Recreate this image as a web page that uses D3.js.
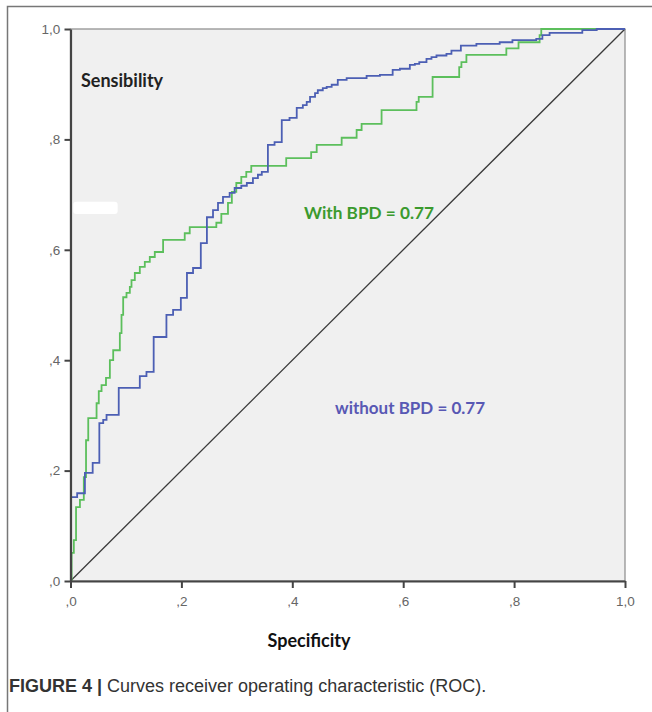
<!DOCTYPE html>
<html>
<head>
<meta charset="utf-8">
<script src="https://cdn.jsdelivr.net/npm/d3@7"></script>
<style>
  body { margin: 0; background: #fff; }
  svg text { font-family: Lato, "Open Sans", sans-serif; }
</style>
</head>
<body>
<div id="roc"></div>
<script>
// ROC points: x = 1 - specificity, y = sensitivity (top of every rise)
const withX = [0, 0.002, 0.006, 0.010, 0.017, 0.024, 0.028, 0.032, 0.047, 0.051, 0.056, 0.064, 0.071, 0.077,
  0.089, 0.092, 0.095, 0.101, 0.107, 0.110, 0.116, 0.125, 0.134, 0.143, 0.152, 0.167, 0.206, 0.215,
  0.263, 0.272, 0.284, 0.291, 0.299, 0.308, 0.317, 0.326, 0.389, 0.434, 0.444, 0.489, 0.516, 0.525,
  0.561, 0.624, 0.628, 0.653, 0.701, 0.705, 0.714, 0.786, 0.808, 0.846, 0.849, 1];
const withY = [0, 0.051, 0.074, 0.134, 0.147, 0.188, 0.255, 0.295, 0.322, 0.344, 0.355, 0.368, 0.400, 0.418,
  0.449, 0.482, 0.514, 0.522, 0.533, 0.545, 0.558, 0.569, 0.578, 0.587, 0.596, 0.618, 0.630, 0.641,
  0.649, 0.665, 0.685, 0.705, 0.721, 0.732, 0.741, 0.752, 0.766, 0.777, 0.790, 0.803, 0.817, 0.828,
  0.853, 0.868, 0.877, 0.913, 0.931, 0.940, 0.953, 0.965, 0.976, 0.989, 1.0, 1.0];

const withoutX = [0, 0.001, 0.012, 0.026, 0.040, 0.052, 0.059, 0.065, 0.087, 0.125, 0.137, 0.150, 0.173, 0.185,
  0.199, 0.210, 0.221, 0.235, 0.246, 0.257, 0.266, 0.275, 0.287, 0.296, 0.308, 0.318, 0.329, 0.338,
  0.345, 0.356, 0.368, 0.381, 0.395, 0.408, 0.419, 0.426, 0.432, 0.441, 0.446, 0.455, 0.462, 0.471,
  0.482, 0.498, 0.534, 0.558, 0.581, 0.594, 0.612, 0.621, 0.629, 0.642, 0.651, 0.660, 0.678, 0.687,
  0.704, 0.732, 0.774, 0.797, 0.840, 0.851, 0.864, 0.923, 0.949, 1];
const withoutY = [0, 0.152, 0.159, 0.196, 0.214, 0.286, 0.292, 0.301, 0.350, 0.371, 0.379, 0.442, 0.482, 0.491,
  0.513, 0.558, 0.567, 0.612, 0.659, 0.672, 0.685, 0.696, 0.703, 0.712, 0.716, 0.721, 0.730, 0.736,
  0.741, 0.790, 0.795, 0.835, 0.839, 0.857, 0.862, 0.868, 0.877, 0.884, 0.889, 0.893, 0.895, 0.899,
  0.908, 0.911, 0.915, 0.917, 0.926, 0.928, 0.935, 0.937, 0.940, 0.946, 0.949, 0.952, 0.955, 0.961,
  0.970, 0.973, 0.976, 0.980, 0.982, 0.989, 0.993, 0.998, 1.0, 1.0];

const ticks = [0, 0.2, 0.4, 0.6, 0.8, 1.0];
const tickLabels = [",0", ",2", ",4", ",6", ",8", "1,0"];
const aucLabels = ["With BPD = 0.77", "without BPD = 0.77"];

const width = 652,
    height = 712,
    margin = ({ top: 29, right: 27, bottom: 131, left: 70.5 });

const svg = d3.select("#roc")
    .append("svg")
    .attr("width", width)
    .attr("height", height);

// figure frame (only top and left visible)
svg.append("path")
    .attr("d", `M7.5,${height} V6.5 H${width}`)
    .attr("fill", "none")
    .attr("stroke", "#777")
    .attr("stroke-width", 1.5);

let x = d3.scaleLinear()
    .domain([0, 1])
    .range([margin.left, width - margin.right]);

let y = d3.scaleLinear()
    .domain([0, 1])
    .range([height - margin.bottom, margin.top]);

svg.append("rect")
    .attr("x", x(0))
    .attr("y", y(1))
    .attr("width", x(1) - x(0))
    .attr("height", y(0) - y(1))
    .attr("fill", "#f0f0f0")
    .attr("stroke", "#8a8a8a")
    .attr("stroke-width", 1.2);

// white smudge left on the original scan
svg.append("rect")
    .attr("x", x(0.005))
    .attr("y", y(0.687))
    .attr("width", x(0.085) - x(0.005))
    .attr("height", y(0.665) - y(0.687))
    .attr("rx", 3)
    .attr("fill", "#fff");

// reference diagonal
svg.append("line")
    .attr("x1", x(0)).attr("y1", y(0))
    .attr("x2", x(1)).attr("y2", y(1))
    .attr("stroke", "#3a3a3a")
    .attr("stroke-width", 1.3);

let line = d3.line()
    .x(d => x(d[0]))
    .y(d => y(d[1]))
    .curve(d3.curveStepAfter);

svg.append("path")
    .datum(d3.zip(withX, withY))
    .attr("fill", "none")
    .attr("stroke", "#5cbf5c")
    .attr("stroke-width", 1.8)
    .attr("d", line);

svg.append("path")
    .datum(d3.zip(withoutX, withoutY))
    .attr("fill", "none")
    .attr("stroke", "#4c5fb4")
    .attr("stroke-width", 1.8)
    .attr("d", line);

// axes
let xAxis = svg.append("g")
    .attr("transform", `translate(0,${y(0)})`)
    .call(d3.axisBottom(x)
        .tickValues(ticks)
        .tickFormat((d, i) => tickLabels[i])
        .tickSize(7)
        .tickSizeOuter(0));

let yAxis = svg.append("g")
    .attr("transform", `translate(${x(0)},0)`)
    .call(d3.axisLeft(y)
        .tickValues(ticks)
        .tickFormat((d, i) => tickLabels[i])
        .tickSize(6)
        .tickSizeOuter(0));

for (let g of [xAxis, yAxis]) {
    g.select(".domain").attr("stroke", "#444").attr("stroke-width", 2.2);
    g.selectAll(".tick line").attr("stroke", "#444").attr("stroke-width", 2);
    g.selectAll(".tick text")
        .attr("fill", "#666")
        .attr("font-size", 13.5)
        .style("font-family", "'Liberation Sans', Arial, sans-serif");
}
xAxis.selectAll(".tick text").attr("dy", "1.1em");
yAxis.selectAll(".tick text").attr("dx", "-0.1em");

// axis titles
svg.append("text")
    .attr("x", 81)
    .attr("y", 87)
    .attr("font-size", 18)
    .attr("font-weight", "bold")
    .attr("fill", "#222")
    .text("Sensibility");

svg.append("text")
    .attr("text-anchor", "middle")
    .attr("x", 309)
    .attr("y", 647)
    .attr("font-size", 18)
    .attr("font-weight", "bold")
    .attr("fill", "#111")
    .text("Specificity");

// AUC labels
svg.append("text")
    .attr("x", 304)
    .attr("y", 219)
    .attr("font-size", 17.5)
    .attr("font-weight", "bold")
    .attr("fill", "#3b9a2e")
    .attr("textLength", 130)
    .attr("lengthAdjust", "spacingAndGlyphs")
    .text(aucLabels[0]);

svg.append("text")
    .attr("x", 335)
    .attr("y", 414)
    .attr("font-size", 17.5)
    .attr("font-weight", "bold")
    .attr("fill", "#5858b4")
    .attr("textLength", 150)
    .attr("lengthAdjust", "spacingAndGlyphs")
    .text(aucLabels[1]);

// caption
let caption = svg.append("text")
    .attr("x", 9)
    .attr("y", 692)
    .attr("font-size", 18)
    .attr("fill", "#333")
    .style("font-family", "'Liberation Sans', Arial, sans-serif");

caption.append("tspan")
    .attr("font-weight", "bold")
    .text("FIGURE 4 | ");

caption.append("tspan")
    .text("Curves receiver operating characteristic (ROC).");
</script>
</body>
</html>
